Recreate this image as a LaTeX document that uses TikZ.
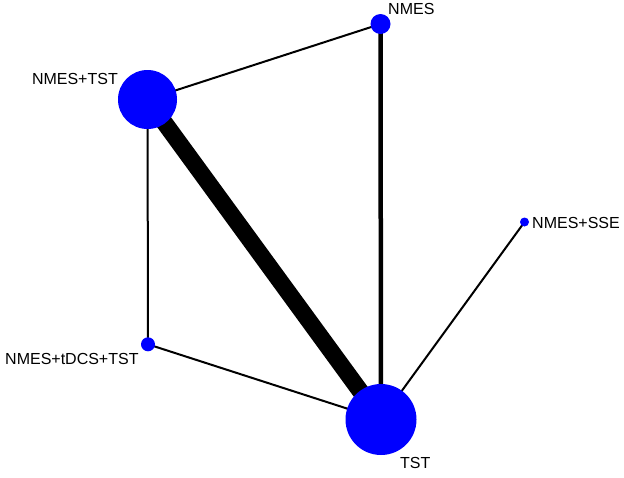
\documentclass[tikz,border=0pt]{standalone}
\usepackage{fontspec}
\setmainfont{Liberation Sans}
\usetikzlibrary{backgrounds}
\definecolor{nodeblue}{RGB}{0,0,255}
\tikzset{
  trt/.style={circle, fill=nodeblue, draw=none, inner sep=0pt, minimum size=#1},
  lbl/.style={inner sep=0pt, font=\fontsize{16}{19}\selectfont},
  thinedge/.style={line width=2pt},
  midedge/.style={line width=4.5pt},
  heavyedge/.style={line width=17pt}
}
\begin{document}
\begin{tikzpicture}[x=1pt,y=-1pt]
\useasboundingbox (0,0) rectangle (624,477);
\node[trt=20pt] (nmes) at (380.5,24) {};
\node[trt=59pt] (nmestst) at (147.5,99.5) {};
\node[trt=9pt] (nmessse) at (524.5,222) {};
\node[trt=14pt] (tdcs) at (148,344.3) {};
\node[trt=71pt] (tst) at (381,419.5) {};
\node[lbl, anchor=base west] (lnmes) at (388,14) {NMES};
\node[lbl, anchor=base east] (lnmestst) at (118,84) {NMES+TST};
\node[lbl, anchor=base west] (lnmessse) at (532,228) {NMES+SSE};
\node[lbl, anchor=base west] (ltdcs) at (5,364) {NMES+tDCS+TST};
\node[lbl, anchor=base west] (ltst) at (400,468) {TST};
\begin{pgfonlayer}{background}
\draw[thinedge] (nmes.center) -- (nmestst.center);
\draw[midedge] (nmes.center) -- (tst.center);
\draw[heavyedge] (nmestst.center) -- (tst.center);
\draw[thinedge] (nmestst.center) -- (tdcs.center);
\draw[thinedge] (tdcs.center) -- (tst.center);
\draw[thinedge] (nmessse.center) -- (tst.center);
\end{pgfonlayer}
\end{tikzpicture}
\end{document}
